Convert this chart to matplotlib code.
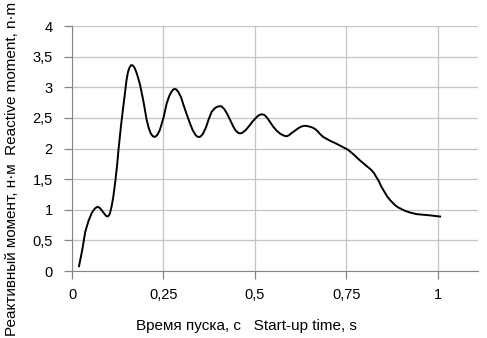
import numpy as np
import matplotlib
matplotlib.use("Agg")
import matplotlib.pyplot as plt

plt.rcParams['font.family'] = ['Liberation Sans', 'DejaVu Sans']

# Время пуска, с / Реактивный момент, н·м
t = [0.019, 0.028, 0.036, 0.045, 0.054, 0.062, 0.070, 0.076, 0.084, 0.093, 0.098, 0.103, 0.108,
     0.113, 0.118, 0.123, 0.127, 0.134, 0.140, 0.145, 0.149, 0.153, 0.157, 0.161, 0.165,
     0.170, 0.175, 0.180, 0.186, 0.195, 0.204, 0.210, 0.215, 0.221, 0.227, 0.233, 0.240,
     0.250, 0.259, 0.266, 0.272, 0.278, 0.284, 0.290, 0.298, 0.305, 0.313, 0.322, 0.330,
     0.338, 0.344, 0.350, 0.357, 0.366, 0.374, 0.382, 0.389, 0.396, 0.402, 0.409, 0.417,
     0.425, 0.433, 0.441, 0.448, 0.456, 0.464, 0.475, 0.486, 0.495, 0.503, 0.510, 0.518,
     0.526, 0.534, 0.542, 0.550, 0.560, 0.570, 0.580, 0.588, 0.594, 0.600, 0.607, 0.614,
     0.621, 0.628, 0.635, 0.641, 0.648, 0.655, 0.662, 0.669, 0.678, 0.687, 0.705, 0.723,
     0.739, 0.755, 0.771, 0.787, 0.803, 0.819, 0.826, 0.833, 0.840, 0.846, 0.854, 0.862,
     0.870, 0.878, 0.885, 0.892, 0.899, 0.905, 0.913, 0.922, 0.932, 0.942, 0.960, 0.978, 1.007]
m = [0.08, 0.35, 0.64, 0.82, 0.95, 1.02, 1.05, 1.03, 0.97, 0.90, 0.89, 0.93, 1.05,
     1.22, 1.45, 1.72, 1.98, 2.38, 2.68, 2.92, 3.12, 3.25, 3.32, 3.36, 3.36,
     3.33, 3.26, 3.17, 3.04, 2.78, 2.47, 2.33, 2.25, 2.20, 2.19, 2.22, 2.30,
     2.50, 2.74, 2.86, 2.93, 2.97, 2.97, 2.93, 2.84, 2.71, 2.57, 2.42, 2.30,
     2.22, 2.19, 2.19, 2.23, 2.34, 2.48, 2.60, 2.65, 2.68, 2.69, 2.69, 2.64,
     2.56, 2.46, 2.36, 2.29, 2.25, 2.25, 2.30, 2.38, 2.45, 2.50, 2.54, 2.56,
     2.55, 2.50, 2.43, 2.36, 2.29, 2.24, 2.21, 2.20, 2.22, 2.25, 2.28, 2.31,
     2.34, 2.36, 2.37, 2.37, 2.36, 2.35, 2.33, 2.30, 2.24, 2.19, 2.13, 2.08,
     2.03, 1.98, 1.90, 1.81, 1.73, 1.65, 1.60, 1.53, 1.46, 1.38, 1.30, 1.22,
     1.16, 1.11, 1.07, 1.04, 1.02, 1.00, 0.98, 0.96, 0.945, 0.93, 0.92, 0.91, 0.89]

xticks = [0, 0.25, 0.5, 0.75, 1]
xlabels = ['0', '0,25', '0,5', '0,75', '1']
yticks = [0, 0.5, 1, 1.5, 2, 2.5, 3, 3.5, 4]
ylabels = ['0', '0,5', '1', '1,5', '2', '2,5', '3', '3,5', '4']

fig = plt.figure(figsize=(4.87, 3.38), dpi=100)
ax = fig.add_axes([0.148, 0.198, 0.833, 0.725])

ax.plot(t, m, color='black', linewidth=1.4)

ax.set_xlim(0, 1.11)
ax.set_ylim(0, 4)
ax.set_xticks(xticks)
ax.set_xticklabels(xlabels)
ax.set_yticks(yticks)
ax.set_yticklabels(ylabels)

ax.grid(True, color='#c4c4c4', linewidth=0.9)
ax.set_axisbelow(True)
for s in ['top', 'right']:
    ax.spines[s].set_visible(False)
for s in ['left', 'bottom']:
    ax.spines[s].set_color('#868686')
ax.tick_params(axis='both', colors='#868686', labelcolor='black',
               labelsize=10.5, length=6, width=0.9)
ax.tick_params(axis='x', pad=6)
ax.tick_params(axis='y', pad=8)

fig.text(0.507, 0.015, 'Время пуска, с   Start-up time, s', fontsize=11,
         ha='center', va='bottom')
fig.text(0.025, 0.005, 'Реактивный момент, н·м  Reactive moment, n·m',
         fontsize=11, rotation=90, ha='center', va='bottom')

fig.savefig('out.png', dpi=100)
